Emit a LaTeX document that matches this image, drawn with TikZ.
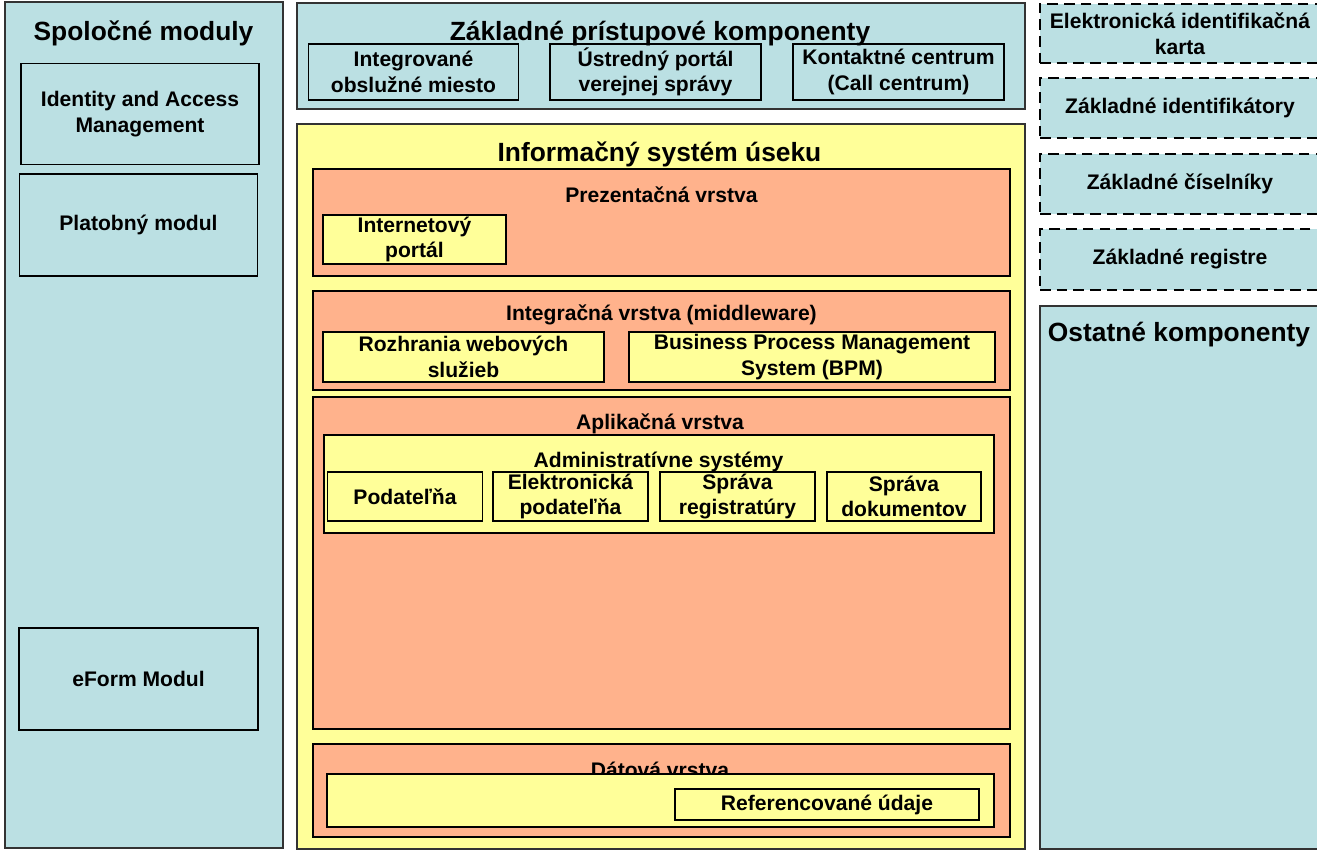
\documentclass[tikz,border=0pt]{standalone}
\usepackage{fontspec}
\setmainfont{Liberation Sans}
\usepackage{tikz}
\usetikzlibrary{positioning}

\definecolor{modra}{RGB}{187,224,227}
\definecolor{zlta}{RGB}{255,255,153}
\definecolor{losos}{RGB}{255,178,140}
\newcommand{\velke}{\fontsize{15}{18}\selectfont\bfseries}
\newcommand{\male}{\fontsize{12}{14.5}\selectfont\bfseries}

\begin{document}
\begin{tikzpicture}[
  panel/.style={draw=black!80, line width=1pt, fill=modra, inner sep=0pt},
  box/.style={draw=black, line width=1pt, inner sep=0pt, align=center, font=\male},
  carkbox/.style={box, fill=modra, dash pattern=on 6pt off 3.5pt},
  titul/.style={inner sep=0pt, anchor=base, font=\velke},
  vrstva/.style={inner sep=0pt, anchor=base, font=\male}]
  \useasboundingbox (0,0) rectangle (26.34,-17);

  % spolocne moduly
  \node[panel, minimum width=5.56cm, minimum height=16.92cm] (spol) at (2.88,-8.50) {};
  \node[titul] (spolT) at (2.87,-0.80) {Spoločné moduly};
  \node[box, fill=modra, minimum width=4.76cm, minimum height=2.02cm] (iam) at (2.80,-2.28) {Identity and Access\\Management};
  \node[box, fill=modra, minimum width=4.76cm, minimum height=2.04cm] (plat) at (2.77,-4.50) {Platobný modul};
  \node[box, fill=modra, minimum width=4.77cm, minimum height=2.03cm] (eform) at (2.77,-13.58) {eForm Modul};

  % zakladne pristupove komponenty
  \node[panel, minimum width=14.56cm, minimum height=2.12cm] (zakl) at (13.22,-1.12) {};
  \node[titul] (zaklT) at (13.20,-0.80) {Základné prístupové komponenty};
  \node[box, minimum width=4.20cm, minimum height=1.12cm] (iom) at (8.27,-1.44) {Integrované\\obslužné miesto};
  \node[box, minimum width=4.22cm, minimum height=1.12cm] (upvs) at (13.11,-1.44) {Ústredný portál\\verejnej správy};
  \node[box, minimum width=4.22cm, minimum height=1.12cm] (kc) at (17.97,-1.44) {Kontaktné centrum\\(Call centrum)};

  % informacny system
  \node[panel, fill=zlta, minimum width=14.56cm, minimum height=14.50cm] (isu) at (13.22,-9.73) {};
  \node[titul] (isuT) at (13.19,-3.22) {Informačný systém úseku};

  % vrstvy
  \node[box, fill=losos, minimum width=13.94cm, minimum height=2.14cm] (prez) at (13.23,-4.45) {};
  \node[vrstva] (prezT) at (13.23,-4.04) {Prezentačná vrstva};
  \node[box, fill=zlta, minimum width=3.66cm, minimum height=0.98cm] (portal) at (8.29,-4.79) {Internetový\\portál};

  \node[box, fill=losos, minimum width=13.94cm, minimum height=1.98cm] (integ) at (13.23,-6.81) {};
  \node[vrstva] (integT) at (13.23,-6.41) {Integračná vrstva (middleware)};
  \node[box, fill=zlta, minimum width=5.62cm, minimum height=1.00cm] (ws) at (9.27,-7.14) {Rozhrania webových\\služieb};
  \node[box, fill=zlta, minimum width=7.32cm, minimum height=1.00cm] (bpm) at (16.24,-7.14) {Business Process Management\\System (BPM)};

  \node[box, fill=losos, minimum width=13.94cm, minimum height=6.64cm] (apl) at (13.23,-11.26) {};
  \node[vrstva] (aplT) at (13.20,-8.58) {Aplikačná vrstva};
  \node[box, fill=zlta, minimum width=13.40cm, minimum height=1.96cm] (adm) at (13.18,-9.68) {};
  \node[vrstva] (admT) at (13.17,-9.34) {Administratívne systémy};
  \node[box, fill=zlta, minimum width=3.10cm, minimum height=0.98cm] (pod) at (8.10,-9.93) {Podateľňa};
  \node[box, fill=zlta, minimum width=3.10cm, minimum height=0.98cm] (epod) at (11.41,-9.93) {Elektronická\\podateľňa};
  \node[box, fill=zlta, minimum width=3.10cm, minimum height=0.98cm] (sreg) at (14.75,-9.93) {Správa\\registratúry};
  \node[box, fill=zlta, minimum width=3.08cm, minimum height=0.98cm] (sdok) at (18.08,-9.93) {Správa\\dokumentov};

  \node[box, fill=losos, minimum width=13.94cm, minimum height=1.86cm] (dat) at (13.23,-15.81) {};
  \node[vrstva] (datT) at (13.20,-15.54) {Dátová vrstva};
  \node[box, fill=zlta, minimum width=13.34cm, minimum height=1.06cm] (datbox) at (13.21,-16.01) {};
  \node[box, fill=zlta, minimum width=6.07cm, minimum height=0.62cm] (ref) at (16.54,-16.09) {Referencované údaje};

  % zakladne registre
  \node[carkbox, minimum width=5.60cm, minimum height=1.18cm] (eik) at (23.60,-0.67) {Elektronická identifikačná\\karta};
  \node[carkbox, minimum width=5.60cm, minimum height=1.20cm] (zid) at (23.60,-2.16) {Základné identifikátory};
  \node[carkbox, minimum width=5.60cm, minimum height=1.20cm] (zcis) at (23.60,-3.68) {Základné číselníky};
  \node[carkbox, minimum width=5.60cm, minimum height=1.22cm] (zreg) at (23.60,-5.19) {Základné registre};

  % ostatne
  \node[panel, minimum width=5.60cm, minimum height=10.86cm] (ost) at (23.60,-11.55) {};
  \node[titul] (ostT) at (23.58,-6.83) {Ostatné komponenty};
\end{tikzpicture}
\end{document}
